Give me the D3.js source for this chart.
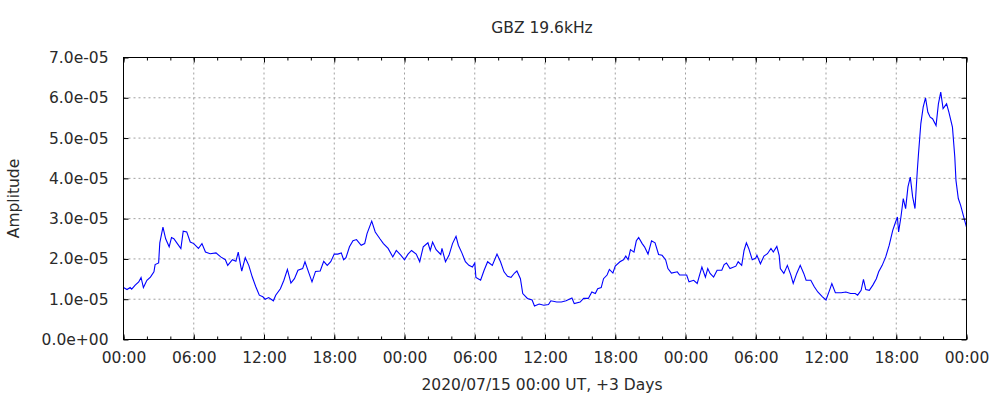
<!DOCTYPE html>
<html>
<head>
<meta charset="utf-8">
<script src="https://cdn.jsdelivr.net/npm/d3@7"></script>
<style>
  html, body { margin: 0; padding: 0; background: #fff; }
  svg { display: block; font-family: "DejaVu Sans", sans-serif; }
</style>
</head>
<body>
<svg id="chart" width="1000" height="400"></svg>
<script>
// ---- Data ----
const startTime = "2020-07-15T00:00:00Z";
const spanDays = 3;
const chartTitle = "GBZ 19.6kHz";
const xAxisLabel = "2020/07/15 00:00 UT, +3 Days";
const yAxisLabel = "Amplitude";

// hours after start
const hoursOffset = [
  0, 0.3, 0.57, 0.7, 1.0, 1.3, 1.5, 1.7, 2.0, 2.3, 2.6, 2.7, 3.0, 3.1, 3.37, 3.6, 3.9, 4.1, 4.3, 4.6,
  4.9, 5.1, 5.4, 5.7, 6.0, 6.4, 6.7, 7.0, 7.4, 7.9, 8.3, 8.7, 8.9, 9.3, 9.6, 9.8, 10.0, 10.1, 10.4, 10.7,
  11.0, 11.3, 11.6, 11.9, 12.1, 12.4, 12.8, 13.0, 13.4, 13.7, 14.0, 14.3, 14.6, 14.9, 15.3, 15.5, 15.8, 16.1, 16.4, 16.8,
  17.1, 17.4, 17.7, 18.0, 18.3, 18.6, 18.8, 19.0, 19.3, 19.6, 19.9, 20.3, 20.6, 20.8, 21.2, 21.5, 21.9, 22.2, 22.6, 23.0,
  23.3, 23.7, 24.0, 24.3, 24.6, 25.0, 25.3, 25.6, 26.0, 26.2, 26.4, 26.7, 27.1, 27.2, 27.5, 27.8, 28.1, 28.4, 28.6, 28.9,
  29.2, 29.5, 29.8, 30.0, 30.1, 30.5, 30.8, 31.1, 31.5, 31.9, 32.2, 32.5, 32.8, 33.1, 33.4, 33.6, 33.9, 34.1, 34.5, 34.9,
  35.1, 35.5, 35.9, 36.3, 36.5, 37.0, 37.4, 37.8, 38.3, 38.5, 39.0, 39.3, 39.7, 40.0, 40.3, 40.5, 40.8, 41.0, 41.3, 41.5,
  41.8, 42.0, 42.4, 42.7, 42.9, 43.1, 43.3, 43.6, 43.8, 44.0, 44.3, 44.5, 44.8, 45.1, 45.4, 45.7, 46.0, 46.3, 46.5, 46.8,
  47.3, 47.5, 47.8, 48.1, 48.3, 48.7, 49.0, 49.2, 49.4, 49.7, 49.9, 50.1, 50.4, 50.7, 51.1, 51.3, 51.5, 51.8, 52.3, 52.5,
  52.8, 53.0, 53.2, 53.4, 53.7, 54.0, 54.1, 54.4, 54.7, 55.0, 55.3, 55.5, 55.8, 56.0, 56.1, 56.4, 56.7, 57.0, 57.2, 57.5,
  57.8, 58.1, 58.3, 58.7, 59.0, 59.3, 59.7, 60.0, 60.3, 60.5, 60.8, 61.3, 61.7, 62.1, 62.5, 62.7, 63.0, 63.2, 63.4, 63.7,
  64.0, 64.3, 64.5, 64.8, 65.1, 65.4, 65.7, 65.9, 66.1, 66.2, 66.4, 66.6, 66.8, 67.0, 67.2, 67.4, 67.6, 67.8, 67.9, 68.1,
  68.3, 68.5, 68.7, 68.9, 69.1, 69.4, 69.6, 69.8, 70.0, 70.3, 70.5, 70.8, 71.0, 71.1, 71.3, 71.5, 71.8, 72.0
];

// amplitude in units of 1e-5
const amplitudeE5 = [
  1.29, 1.24, 1.29, 1.25, 1.35, 1.43, 1.54, 1.29, 1.47, 1.55, 1.68, 1.86, 1.90, 2.40, 2.79, 2.50, 2.30, 2.53, 2.50, 2.38,
  2.26, 2.69, 2.67, 2.42, 2.38, 2.26, 2.38, 2.17, 2.13, 2.15, 2.05, 1.98, 1.84, 1.98, 1.94, 2.17, 1.84, 1.70, 2.03, 1.84,
  1.55, 1.31, 1.10, 1.06, 1.00, 1.04, 0.96, 1.10, 1.26, 1.47, 1.74, 1.40, 1.51, 1.72, 1.76, 1.93, 1.68, 1.43, 1.69, 1.70,
  1.94, 1.84, 1.93, 2.12, 2.12, 2.15, 1.98, 2.03, 2.30, 2.45, 2.48, 2.34, 2.38, 2.63, 2.94, 2.67, 2.50, 2.38, 2.26, 2.05,
  2.21, 2.09, 1.98, 2.12, 2.21, 2.12, 1.93, 2.30, 2.40, 2.21, 2.42, 2.23, 2.11, 2.26, 1.93, 2.09, 2.38, 2.56, 2.34, 2.15,
  1.93, 1.84, 1.80, 1.90, 1.54, 1.47, 1.72, 1.93, 1.84, 2.12, 1.93, 1.68, 1.57, 1.54, 1.65, 1.70, 1.51, 1.14, 1.02, 0.98,
  0.83, 0.88, 0.85, 0.87, 0.96, 0.93, 0.93, 0.96, 1.03, 0.89, 0.93, 1.02, 1.02, 1.18, 1.14, 1.26, 1.29, 1.51, 1.60, 1.74,
  1.65, 1.82, 1.93, 1.98, 2.07, 1.98, 2.23, 2.17, 2.45, 2.53, 2.38, 2.30, 2.12, 2.45, 2.40, 2.11, 2.09, 1.98, 1.76, 1.65,
  1.68, 1.60, 1.60, 1.60, 1.43, 1.47, 1.39, 1.60, 1.80, 1.55, 1.76, 1.64, 1.55, 1.72, 1.72, 1.86, 1.90, 1.76, 1.82, 1.93,
  1.84, 2.21, 2.40, 2.26, 1.98, 2.02, 2.09, 1.88, 2.07, 2.13, 2.26, 2.17, 2.31, 2.09, 1.76, 1.64, 1.84, 1.60, 1.39, 1.64,
  1.84, 1.64, 1.47, 1.47, 1.31, 1.18, 1.06, 0.98, 1.22, 1.39, 1.16, 1.16, 1.18, 1.14, 1.14, 1.10, 1.22, 1.49, 1.24, 1.22,
  1.35, 1.51, 1.68, 1.84, 2.05, 2.34, 2.71, 2.88, 3.04, 2.67, 3.04, 3.50, 3.25, 3.79, 4.03, 3.54, 3.25, 4.20, 4.61, 5.36,
  5.77, 6.00, 5.64, 5.52, 5.48, 5.31, 5.85, 6.14, 5.73, 5.85, 5.64, 5.27, 4.53, 3.95, 3.50, 3.33, 3.00, 2.79
];

const yTickValues = [0, 1e-5, 2e-5, 3e-5, 4e-5, 5e-5, 6e-5, 7e-5];

// ---- Chart ----
const svg = d3.select("#chart");
const W = 1000, H = 400;
const margin = { left: 123.5, right: 33.5, top: 57.5, bottom: 60.5 };
const iw = W - margin.left - margin.right;
const ih = H - margin.top - margin.bottom;

const t0 = new Date(startTime);
const t1 = d3.utcDay.offset(t0, spanDays);
const data = hoursOffset.map((h, i) => ({
  t: new Date(t0.getTime() + h * 3600e3),
  v: amplitudeE5[i] * 1e-5
}));

const x = d3.scaleUtc().domain([t0, t1]).range([0, iw]);
const y = d3.scaleLinear().domain([0, 7e-5]).range([ih, 0]);

function fmtExp(v) {
  if (v === 0) return "0.0e+00";
  const exp = Math.floor(Math.log10(Math.abs(v)) + 1e-9);
  const man = v / Math.pow(10, exp);
  const sign = exp < 0 ? "-" : "+";
  return man.toFixed(1) + "e" + sign + String(Math.abs(exp)).padStart(2, "0");
}

const g = svg.append("g").attr("transform", `translate(${margin.left},${margin.top})`);

const majorTicks = x.ticks(d3.utcHour.every(6));
const minorTicks = x.ticks(d3.utcHour.every(2));

// grid
const gridColor = "#a0a0a0";
g.append("g").selectAll("line")
  .data(majorTicks.filter(d => +d > +t0 && +d < +t1))
  .join("line")
  .attr("x1", d => x(d)).attr("x2", d => x(d))
  .attr("y1", 0).attr("y2", ih)
  .attr("stroke", gridColor).attr("stroke-width", 1).attr("stroke-dasharray", "2,3");
g.append("g").selectAll("line")
  .data(yTickValues.filter(v => v > 0 && v < 7e-5))
  .join("line")
  .attr("y1", d => y(d)).attr("y2", d => y(d))
  .attr("x1", 0).attr("x2", iw)
  .attr("stroke", gridColor).attr("stroke-width", 1).attr("stroke-dasharray", "2,3");

// data line
const line = d3.line().x(d => x(d.t)).y(d => y(d.v)).curve(d3.curveLinear);
g.append("path").datum(data)
  .attr("fill", "none").attr("stroke", "#0000ff").attr("stroke-width", 1.1)
  .attr("stroke-linejoin", "miter")
  .attr("d", line);

// axes
const fontSize = "15.5px";
const textColor = "#2a2a2a";
const xMinor = d3.axisBottom(x).tickValues(minorTicks).tickSize(-3).tickFormat("");
const xMinorTop = d3.axisTop(x).tickValues(minorTicks).tickSize(-3).tickFormat("");
const xMajor = d3.axisBottom(x).tickValues(majorTicks).tickSize(-5).tickPadding(12)
  .tickFormat(d3.utcFormat("%H:%M"));
const xMajorTop = d3.axisTop(x).tickValues(majorTicks).tickSize(-5).tickFormat("");
const yLeft = d3.axisLeft(y).tickValues(yTickValues).tickSize(-5).tickPadding(15).tickFormat(fmtExp);
const yRight = d3.axisRight(y).tickValues(yTickValues).tickSize(-5).tickFormat("");

function styleAxis(sel) {
  sel.select(".domain").remove();
  sel.selectAll(".tick line").attr("stroke", "#000");
  sel.selectAll("text").attr("fill", textColor).style("font-size", fontSize)
    .style("font-family", "'DejaVu Sans', sans-serif");
}
g.append("g").attr("transform", `translate(0,${ih})`).call(xMinor).call(styleAxis);
g.append("g").call(xMinorTop).call(styleAxis);
g.append("g").attr("transform", `translate(0,${ih})`).call(xMajor).call(styleAxis);
g.append("g").call(xMajorTop).call(styleAxis);
g.append("g").call(yLeft).call(styleAxis);
g.append("g").attr("transform", `translate(${iw},0)`).call(yRight).call(styleAxis);

// frame
g.append("rect").attr("x", 0).attr("y", 0).attr("width", iw).attr("height", ih)
  .attr("fill", "none").attr("stroke", "#000").attr("stroke-width", 1);

// titles
svg.append("text").attr("x", 542).attr("y", 33).attr("text-anchor", "middle")
  .attr("fill", textColor).style("font-size", fontSize).text(chartTitle);
svg.append("text").attr("x", 542).attr("y", 390).attr("text-anchor", "middle")
  .attr("fill", textColor).style("font-size", fontSize).text(xAxisLabel);
svg.append("text").attr("transform", `translate(19,${margin.top + ih / 2}) rotate(-90)`)
  .attr("text-anchor", "middle").attr("fill", textColor).style("font-size", fontSize).text(yAxisLabel);
</script>
</body>
</html>
